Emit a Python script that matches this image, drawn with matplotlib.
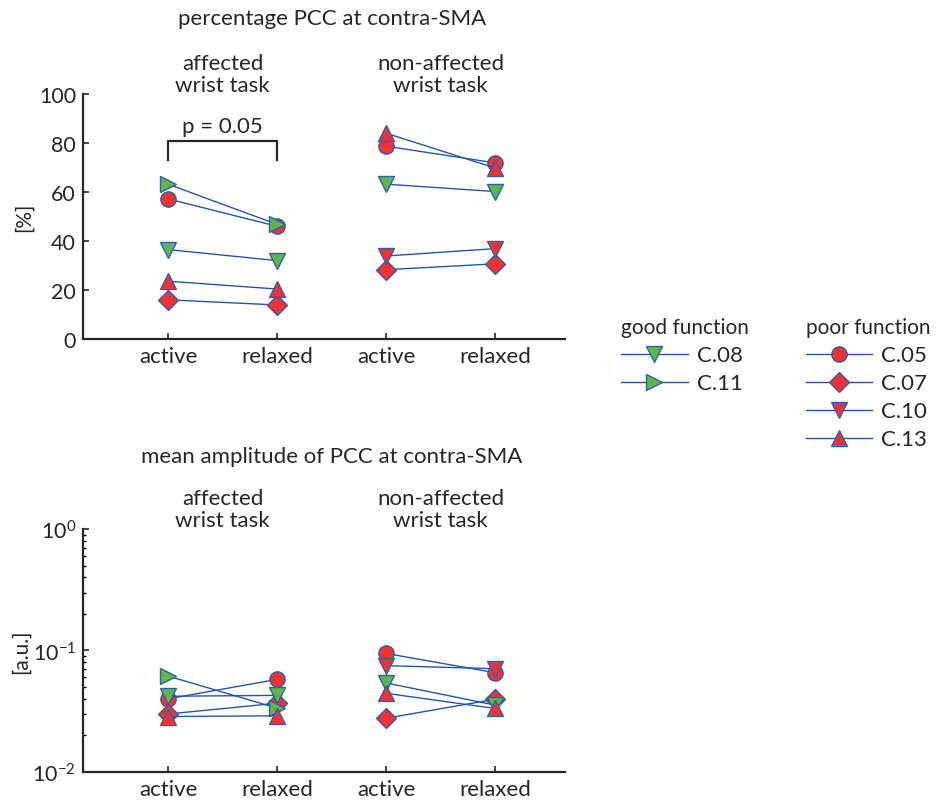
import numpy as np
import matplotlib
matplotlib.use("Agg")
import matplotlib.pyplot as plt
from matplotlib.lines import Line2D

plt.rcParams['font.family'] = ['Lato', 'DejaVu Sans']
plt.rcParams['mathtext.fontset'] = 'custom'
plt.rcParams['mathtext.rm'] = 'Lato'
plt.rcParams['mathtext.it'] = 'Lato'

nan = np.nan
subjects = ["C.05", "C.07", "C.08", "C.10", "C.11", "C.13"]
good = ["C.08", "C.11"]
poor = ["C.05", "C.07", "C.10", "C.13"]
markers = {"C.05": "o", "C.07": "D", "C.08": "v", "C.10": "v", "C.11": ">", "C.13": "^"}
conditions = ["active", "relaxed", "active", "relaxed"]

# percentage PCC [%]
pct_aff_active = [57.2, 16.0, 36.5, nan, 63.2, 23.6]
pct_aff_relaxed = [46.0, 13.9, 32.0, nan, 46.8, 20.4]
pct_non_active = [78.7, 28.3, 63.2, 33.9, nan, 84.0]
pct_non_relaxed = [71.9, 30.7, 60.2, 36.9, nan, 69.8]

# mean amplitude [a.u.]
amp_aff_active = [0.040, 0.030, 0.042, nan, 0.0616, 0.0286]
amp_aff_relaxed = [0.0578, 0.0368, 0.0427, nan, 0.0335, 0.029]
amp_non_active = [0.0945, 0.0277, 0.054, 0.075, nan, 0.0444]
amp_non_relaxed = [0.0656, 0.0397, 0.0355, 0.0708, nan, 0.0333]

red = "#ee3232"
green = "#5cb846"
edge = "#2f5fb0"
line_c = "#2456a8"
ink = "#262626"
fs = 16


def face(s):
    return green if s in good else red


def draw_panel(ax, aff_a, aff_r, non_a, non_r):
    for i, s in enumerate(subjects):
        for xs, ys in [([1, 2], [aff_a[i], aff_r[i]]), ([3, 4], [non_a[i], non_r[i]])]:
            if np.isnan(ys[0]):
                continue
            ms = 10 if markers[s] == "D" else 11
            ax.plot(xs, ys, color=line_c, lw=1, marker=markers[s], ms=ms,
                    mfc=face(s), mec=edge, mew=1)
    ax.set_xlim(0.22, 4.64)
    ax.set_xticks([1, 2, 3, 4])
    ax.set_xticklabels(conditions)
    for sp in ["top", "right"]:
        ax.spines[sp].set_visible(False)
    for sp in ["left", "bottom"]:
        ax.spines[sp].set_linewidth(1.6)
        ax.spines[sp].set_color(ink)
    ax.tick_params(direction="in", length=4, width=1.2, colors=ink, labelsize=fs, pad=5)
    ax.tick_params(axis="y", labelsize=fs - 0.5)
    ax.tick_params(which="minor", direction="in", length=2.5, width=1)
    ax.text(1.5, 0.995, "affected\nwrist task", transform=ax.get_xaxis_transform(),
            ha="center", va="bottom", fontsize=fs, color=ink, linespacing=1.12)
    ax.text(3.5, 0.995, "non-affected\nwrist task", transform=ax.get_xaxis_transform(),
            ha="center", va="bottom", fontsize=fs, color=ink, linespacing=1.12)


fig = plt.figure(figsize=(9.38, 8.04), dpi=100)

ax1 = fig.add_axes([0.0885, 0.5771, 0.5139, 0.3047])
draw_panel(ax1, pct_aff_active, pct_aff_relaxed, pct_non_active, pct_non_relaxed)
ax1.set_ylim(0, 100)
ax1.set_yticks([0, 20, 40, 60, 80, 100])
ax1.set_ylabel("[%]", fontsize=fs - 1, color=ink, labelpad=4)
ax1.plot([1, 1, 2, 2], [73, 81, 81, 73], color=ink, lw=1.6)
ax1.text(1.5, 83, "p = 0.05", ha="center", va="bottom", fontsize=fs, color=ink)
ax1.text(2.5, 1.31, "percentage PCC at contra-SMA", transform=ax1.get_xaxis_transform(),
         ha="center", va="center", fontsize=fs, color=ink)

ax2 = fig.add_axes([0.0885, 0.0386, 0.5139, 0.3022])
ax2.set_yscale("log")
draw_panel(ax2, amp_aff_active, amp_aff_relaxed, amp_non_active, amp_non_relaxed)
ax2.set_ylim(0.01, 1)
ax2.set_ylabel("[a.u.]", fontsize=fs - 1, color=ink, labelpad=1)
ax2.text(2.5, 1.30, "mean amplitude of PCC at contra-SMA", transform=ax2.get_xaxis_transform(),
         ha="center", va="center", fontsize=fs, color=ink)


def handle(s):
    return Line2D([], [], color=line_c, lw=1, marker=markers[s], ms=10 if markers[s] == "D" else 11,
                  mfc=face(s), mec=edge, mew=1)


leg_kw = dict(loc="upper left", frameon=False, fontsize=fs, title_fontsize=fs - 1,
              handlelength=3.0, handletextpad=0.4, labelspacing=0.36,
              alignment="left", labelcolor=ink, borderpad=0, borderaxespad=0)
leg1 = fig.legend([handle(s) for s in good], good, title="good function",
                  bbox_to_anchor=(0.662, 0.604), **leg_kw)
leg2 = fig.legend([handle(s) for s in poor], poor, title="poor function",
                  bbox_to_anchor=(0.859, 0.604), **leg_kw)
for lg in (leg1, leg2):
    lg.get_title().set_color(ink)

fig.savefig("out.png", dpi=100)
